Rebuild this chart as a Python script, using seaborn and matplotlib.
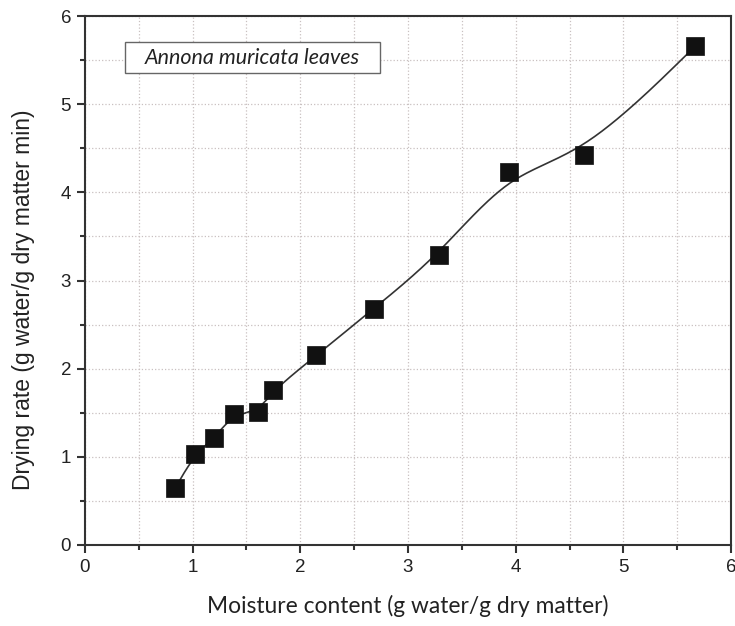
import numpy as np
import pandas as pd
import seaborn as sns
import matplotlib.pyplot as plt
from matplotlib.ticker import MultipleLocator
from matplotlib.patches import Rectangle

# data
moisture = [0.84, 1.02, 1.20, 1.38, 1.61, 1.75, 2.15, 2.68, 3.29, 3.94, 4.63, 5.67]
drying_rate = [0.65, 1.03, 1.21, 1.49, 1.51, 1.76, 2.15, 2.68, 3.29, 4.23, 4.42, 5.66]


def bspline(x, y, n=40):
    # clamped uniform cubic B-spline with the data points as control points
    px = np.concatenate([[x[0]] * 2, x, [x[-1]] * 2])
    py = np.concatenate([[y[0]] * 2, y, [y[-1]] * 2])
    t = np.linspace(0, 1, n)
    b0 = (1 - t) ** 3 / 6
    b1 = (3 * t ** 3 - 6 * t ** 2 + 4) / 6
    b2 = (-3 * t ** 3 + 3 * t ** 2 + 3 * t + 1) / 6
    b3 = t ** 3 / 6
    xs, ys = [], []
    for i in range(len(px) - 3):
        xs.append(b0 * px[i] + b1 * px[i + 1] + b2 * px[i + 2] + b3 * px[i + 3])
        ys.append(b0 * py[i] + b1 * py[i + 1] + b2 * py[i + 2] + b3 * py[i + 3])
    return np.concatenate(xs), np.concatenate(ys)


df = pd.DataFrame({"x": moisture, "y": drying_rate})
cx, cy = bspline(np.array(moisture), np.array(drying_rate))
curve = pd.DataFrame({"x": cx, "y": cy})

sns.set_style("white")
plt.rcParams["font.family"] = ["Liberation Sans", "DejaVu Sans"]

fig = plt.figure(figsize=(7.35, 6.26), dpi=100)
ax = fig.add_axes([0.1156, 0.1294, 0.8790, 0.8450])

sns.lineplot(data=curve, x="x", y="y", sort=False, color="#333333", lw=1.2, ax=ax, zorder=2)
sns.scatterplot(data=df, x="x", y="y", marker="s", s=150, color="#111111",
                edgecolor="#111111", linewidth=0.5, ax=ax, zorder=3)

ax.set_xlim(0, 6)
ax.set_ylim(0, 6)
ax.xaxis.set_major_locator(MultipleLocator(1))
ax.yaxis.set_major_locator(MultipleLocator(1))
ax.xaxis.set_minor_locator(MultipleLocator(0.5))
ax.yaxis.set_minor_locator(MultipleLocator(0.5))
ax.grid(True, which="both", ls=":", lw=0.9, color="#c9c0c0")
ax.set_axisbelow(True)

for s in ax.spines.values():
    s.set_color("#333333")
    s.set_linewidth(1.5)

ax.tick_params(which="major", direction="out", length=6, width=1.5, color="#333333",
               labelsize=13.5, labelcolor="#222222", bottom=True, left=True, pad=4)
ax.tick_params(which="minor", direction="out", length=3.5, width=1.5, color="#333333",
               bottom=True, left=True)

ax.set_xlabel("Moisture content (g water/g dry matter)", fontsize=16.4,
              family="Lato", color="#222222", labelpad=14)
ax.set_ylabel("Drying rate (g water/g dry matter min)", fontsize=16.5,
              family="Liberation Sans", color="#222222")
ax.yaxis.set_label_coords(-0.077, 0.463)

ax.add_patch(Rectangle((0.062, 0.892), 0.395, 0.059, transform=ax.transAxes,
                       facecolor="white", edgecolor="#666666", lw=1, zorder=4))
ax.text(0.2595, 0.9215, "Annona muricata leaves", transform=ax.transAxes,
        ha="center", va="center", fontsize=15.5, style="italic",
        family="Lato", color="#222222", zorder=5)

fig.savefig("out.png", dpi=100)
